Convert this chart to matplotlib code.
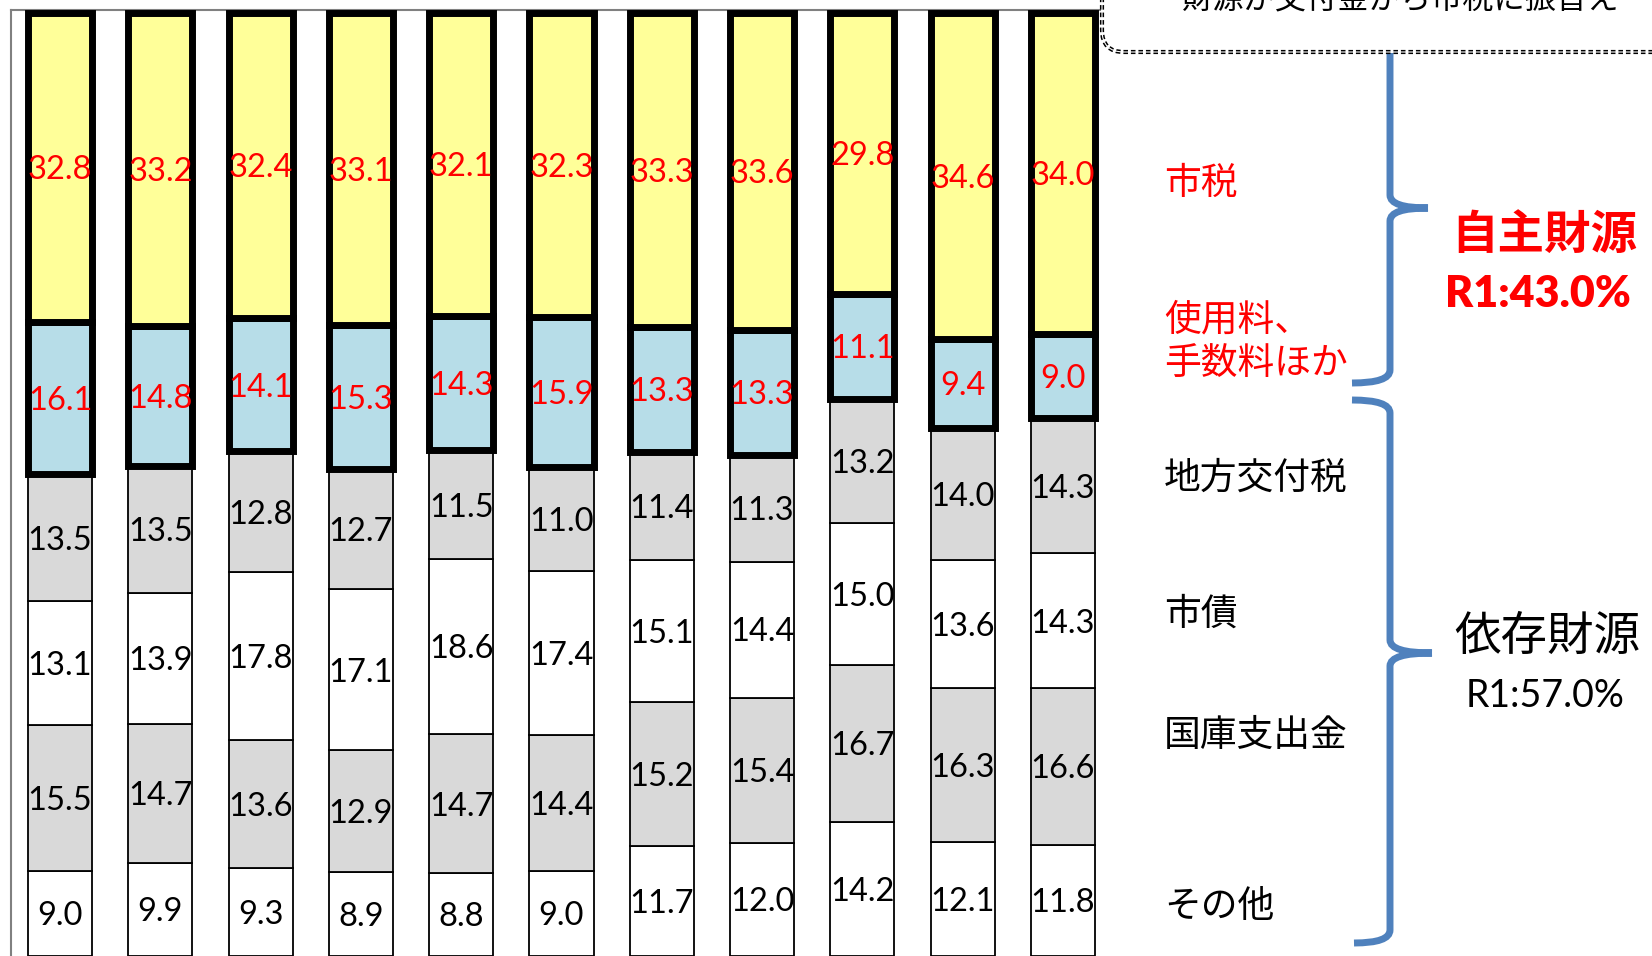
import matplotlib.pyplot as plt
import numpy as np
from matplotlib.patches import FancyBboxPatch, PathPatch
from matplotlib.path import Path

plt.rcParams['font.family'] = ['Lato', 'Noto Sans CJK JP', 'DejaVu Sans']

# values per year (bottom -> top of each stacked bar), percent
sono_ta = [9.0, 9.9, 9.3, 8.9, 8.8, 9.0, 11.7, 12.0, 14.2, 12.1, 11.8]
kokko = [15.5, 14.7, 13.6, 12.9, 14.7, 14.4, 15.2, 15.4, 16.7, 16.3, 16.6]
shisai = [13.1, 13.9, 17.8, 17.1, 18.6, 17.4, 15.1, 14.4, 15.0, 13.6, 14.3]
koufuzei = [13.5, 13.5, 12.8, 12.7, 11.5, 11.0, 11.4, 11.3, 13.2, 14.0, 14.3]
shiyoryo = [16.1, 14.8, 14.1, 15.3, 14.3, 15.9, 13.3, 13.3, 11.1, 9.4, 9.0]
shizei = [32.8, 33.2, 32.4, 33.1, 32.1, 32.3, 33.3, 33.6, 29.8, 34.6, 34.0]

layers = [
	(sono_ta, "white", False),
	(kokko, "#d9d9d9", False),
	(shisai, "white", False),
	(koufuzei, "#d9d9d9", False),
	(shiyoryo, "#b7dde8", True),
	(shizei, "#ffff99", True),
]

W, H = 1652, 956
fig = plt.figure(figsize=(W / 100, H / 100), dpi=100)
ax = fig.add_axes([11 / W, 0, (1100 - 11) / W, 946 / H])
ax.set_xlim(-0.489, 10.37)
ax.set_ylim(0, 100.3)
for s in ["right", "bottom"]:
	ax.spines[s].set_visible(False)
for s in ["left", "top"]:
	ax.spines[s].set_color("#808080")
	ax.spines[s].set_linewidth(1.5)
ax.set_xticks([])
ax.set_yticks([])

x = np.arange(len(shizei))
bottom = np.zeros(len(x))
for vals, color, thick in layers:
	vals = np.array(vals)
	ax.bar(x, vals, 0.64, bottom=bottom, color=color, edgecolor="black",
		linewidth=5 if thick else 1.3, zorder=3 if thick else 2)
	for xi, b, v in zip(x, bottom, vals):
		ax.text(xi, b + v / 2 - 0.3, f"{v:.1f}", ha="center", va="center", fontsize=23.5,
			color="red" if thick else "black", zorder=5)
	bottom += vals

# overlay in pixel coordinates for annotations
ov = fig.add_axes([0, 0, 1, 1], zorder=10)
ov.set_xlim(0, W)
ov.set_ylim(H, 0)
ov.axis("off")

jp = ["Noto Sans CJK JP", "DejaVu Sans"]
labels = [
	("市税", 183, "red"),
	("使用料、", 320, "red"),
	("手数料ほか", 364, "red"),
	("地方交付税", 478, "black"),
	("市債", 614, "black"),
	("国庫支出金", 735, "black"),
	("その他", 907, "black"),
]
for txt, y, c in labels:
	ov.text(1164, y, txt, ha="left", va="center", fontsize=26.5, color=c, family=jp)

ov.text(1544, 235, "自主財源", ha="center", va="center", fontsize=33.5, color="red",
	fontweight="bold", family=jp)
ov.text(1538, 294, "R1:43.0%", ha="center", va="center", fontsize=31, color="red",
	fontweight="heavy", family=["Lato"])
ov.text(1547, 637, "依存財源", ha="center", va="center", fontsize=33.5, color="black", family=jp)
ov.text(1545, 696, "R1:57.0%", ha="center", va="center", fontsize=27, color="black",
	family=["Lato"])

# braces
M, L, Q = Path.MOVETO, Path.LINETO, Path.CURVE3
upper = Path(
	[(1390, 53), (1390, 195), (1390, 208), (1428, 208),
	 (1428, 208), (1390, 208), (1390, 221), (1390, 370), (1390, 383), (1352, 383)],
	[M, L, Q, Q, M, Q, Q, L, Q, Q])
lower = Path(
	[(1352, 400), (1390, 400), (1390, 413), (1390, 640), (1390, 653), (1432, 653),
	 (1432, 653), (1390, 653), (1390, 666), (1390, 930), (1390, 943), (1354, 943)],
	[M, Q, Q, L, Q, Q, M, Q, Q, L, Q, Q])
for p in (upper, lower):
	ov.add_patch(PathPatch(p, fill=False, edgecolor="#4f81bd", linewidth=5, capstyle="butt"))

# dashed callout box (cut at the top)
box_kw = dict(boxstyle="round,pad=0,rounding_size=22", fill=False)
ov.add_patch(FancyBboxPatch((1102, -200), 700, 252, edgecolor="black", linewidth=3,
	linestyle=(0, (1.1, 0.7)), **box_kw))
ov.add_patch(FancyBboxPatch((1102, -200), 700, 252, edgecolor="white", linewidth=0.8, **box_kw))
ov.text(1401, -1, "財源が交付金から市税に振替え", ha="center", va="center", fontsize=22.5,
	color="black", family=jp)

fig.savefig("out.png", dpi=100)
